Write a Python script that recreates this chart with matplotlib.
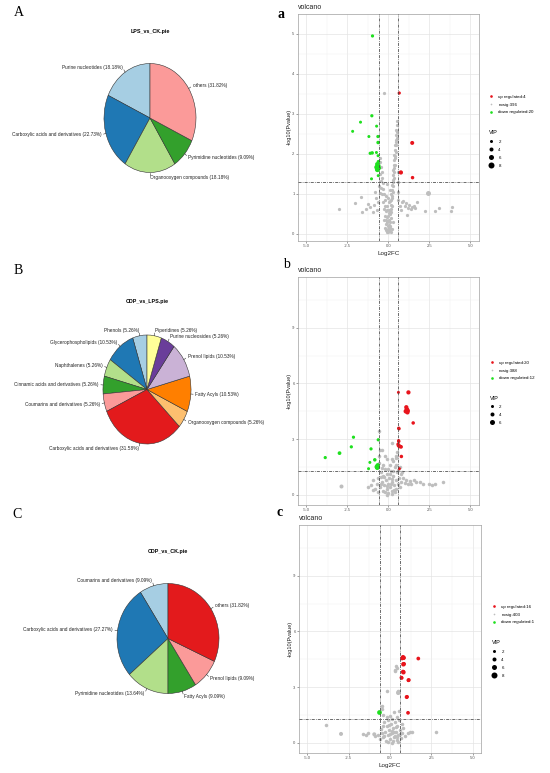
import matplotlib.pyplot as plt
import numpy as np
from matplotlib.lines import Line2D

W, H = 550, 773
plt.rcParams['font.family'] = ['Liberation Sans', 'DejaVu Sans']

# R "Paired" palette, used in order by the pie charts
paired = ['#A6CEE3', '#1F78B4', '#B2DF8A', '#33A02C', '#FB9A99', '#E31A1C',
          '#FDBF6F', '#FF7F00', '#CAB2D6', '#6A3D9A', '#FFFF99', '#B15928']

# --- pie data (counter-clockwise from 12 o'clock) ---
pie_a_names = ['Purine nucleotides', 'Carboxylic acids and derivatives',
               'Organooxygen compounds', 'Pyrimidine nucleotides', 'others']
pie_a_pct = [18.18, 22.73, 18.18, 9.09, 31.82]

pie_b_names = ['Phenols', 'Glycerophospholipids', 'Naphthalenes',
               'Cinnamic acids and derivatives', 'Coumarins and derivatives',
               'Carboxylic acids and derivatives', 'Organooxygen compounds',
               'Fatty Acyls', 'Prenol lipids', 'Purine nucleosides', 'Piperidines']
pie_b_pct = [5.26, 10.53, 5.26, 5.26, 5.26, 31.58, 5.26, 10.53, 10.53, 5.26, 5.26]

pie_c_names = ['Coumarins and derivatives', 'Carboxylic acids and derivatives',
               'Pyrimidine nucleotides', 'Fatty Acyls', 'Prenol lipids', 'others']
pie_c_pct = [9.09, 27.27, 13.64, 9.09, 9.09, 31.82]

# --- volcano a: LPS vs CK  (x = Log2FC, y = -log10 P, VIP) ---
up_a = [(0.67, 3.52, 2.5), (1.46, 2.27, 4.0), (0.77, 1.53, 4.5), (1.48, 1.40, 3.0)]
down_a = [(-0.96, 4.95, 2.5), (-1.00, 2.95, 2.5), (-1.69, 2.79, 2.0), (-2.17, 2.56, 2.0),
          (-0.71, 2.69, 2.0), (-1.18, 2.43, 2.0), (-0.63, 2.43, 2.5), (-0.62, 2.28, 3.0),
          (-1.10, 2.01, 2.5), (-0.98, 2.02, 3.0), (-0.72, 2.03, 2.0), (-0.68, 1.74, 4.0),
          (-0.62, 1.70, 6.0), (-0.70, 1.66, 6.0), (-0.58, 1.64, 5.0), (-0.66, 1.60, 6.0),
          (-0.60, 1.80, 3.0), (-0.61, 1.45, 2.0), (-1.02, 1.37, 2.0), (-0.62, 1.95, 2.0)]
ns_a = [(0.02, 0.10), (0.05, 0.22), (0.07, 0.35), (0.10, 0.48), (0.12, 0.60), (0.14, 0.72),
        (0.17, 0.85), (0.19, 0.98), (0.21, 1.10), (0.24, 1.22), (0.26, 1.35), (0.28, 1.47),
        (0.31, 1.60), (0.33, 1.72), (0.36, 1.85), (0.38, 1.97), (0.40, 2.10), (0.42, 2.22),
        (0.45, 2.35), (0.47, 2.47), (0.50, 2.60), (0.52, 2.72), (0.54, 2.82),
        (0.12, 0.20), (0.15, 0.38), (0.18, 0.55), (0.21, 0.70), (0.24, 0.88), (0.27, 1.05),
        (0.30, 1.20), (0.33, 1.38), (0.36, 1.55), (0.40, 1.72), (0.43, 1.90), (0.46, 2.05),
        (0.49, 2.22), (0.52, 2.40), (0.55, 2.55),
        (0.08, 0.15), (0.11, 0.30), (0.16, 0.62), (0.22, 0.95), (0.29, 1.30), (0.35, 1.65),
        (0.41, 1.95), (0.47, 2.30), (0.06, 0.52), (0.13, 0.82),
        (-0.03, 0.12), (-0.06, 0.28), (-0.10, 0.42), (-0.13, 0.56), (-0.17, 0.70),
        (-0.21, 0.84), (-0.25, 0.98), (-0.29, 1.12), (-0.33, 1.26), (-0.37, 1.40),
        (-0.41, 1.54), (-0.45, 1.66), (-0.49, 1.78), (-0.52, 1.88),
        (-0.12, 0.25), (-0.18, 0.45), (-0.24, 0.62), (-0.30, 0.80), (-0.36, 0.98),
        (-0.42, 1.15), (-0.47, 1.32), (-0.52, 1.48), (-0.56, 1.20), (-0.52, 1.02),
        (-0.08, 0.05), (0.00, 0.04), (0.08, 0.06), (-0.02, 0.20), (0.03, 0.32), (-0.04, 0.45),
        (0.02, 0.58), (-0.06, 0.68), (0.06, 0.78), (-0.20, 0.15), (0.20, 0.12), (-0.28, 0.35),
        (0.28, 0.30), (0.00, 0.90), (-0.12, 0.95), (0.10, 1.10), (-0.05, 1.25),
        (-0.15, 0.10), (0.14, 0.05), (-0.09, 0.58), (-0.16, 0.35),
        (-3.03, 0.61), (-2.01, 0.77), (-1.67, 0.92), (-1.60, 0.55), (-1.38, 0.62),
        (-1.24, 0.73), (-1.10, 0.66), (-0.95, 0.55), (-0.87, 0.72), (-0.80, 1.05),
        (-0.75, 0.88), (-0.70, 0.60), (-0.62, 0.80), (-0.26, 3.52),
        (0.62, 0.85), (0.70, 0.68), (0.78, 0.58), (0.85, 0.78), (0.92, 0.82), (1.00, 0.70),
        (1.08, 0.76), (1.14, 0.47), (1.20, 0.64), (1.28, 0.72), (1.36, 0.62), (1.45, 0.66),
        (1.55, 0.70), (1.65, 0.63), (1.75, 0.78), (2.26, 0.56), (2.87, 0.57), (3.11, 0.64),
        (3.82, 0.57), (3.88, 0.67), (0.60, 1.05), (0.58, 1.30), (0.62, 1.55)]
ns_big_a = [(2.44, 1.01, 6.0)]

# --- volcano b: CDP vs LPS ---
up_b = [(0.62, 5.52, 2.0), (1.23, 5.52, 4.5), (1.10, 4.72, 4.5), (1.15, 4.58, 5.0),
        (1.07, 4.50, 5.0), (1.17, 4.44, 4.5), (1.12, 4.62, 4.0), (1.52, 3.87, 3.0),
        (0.64, 3.58, 3.0), (0.64, 2.88, 3.0), (0.60, 2.72, 3.0), (0.68, 2.60, 3.5),
        (0.78, 2.58, 3.5), (0.80, 2.06, 3.0), (0.68, 1.40, 2.0), (0.62, 2.65, 3.0),
        (1.20, 4.52, 4.0), (0.66, 3.55, 2.0), (0.70, 2.62, 3.0), (0.63, 2.92, 2.0)]
down_b = [(-3.84, 2.00, 2.5), (-2.97, 2.24, 3.5), (-2.25, 2.58, 2.5), (-2.12, 3.10, 2.5),
          (-1.05, 2.47, 2.5), (-0.61, 2.96, 2.5), (-1.12, 1.74, 2.0), (-0.82, 1.88, 3.0),
          (-1.20, 1.40, 2.0), (-0.70, 1.50, 5.0), (-0.64, 1.58, 5.0), (-0.67, 1.45, 5.0)]
ns_b = [(-0.70, 0.60), (-0.60, 0.90), (-0.50, 0.40), (-0.45, 1.20), (-0.40, 0.70), (-0.35, 0.20),
        (-0.30, 1.00), (-0.25, 0.50), (-0.20, 1.40), (-0.15, 0.80), (-0.10, 0.30), (-0.05, 1.10),
        (0.00, 0.60), (0.00, 0.10), (0.05, 0.90), (0.10, 0.40), (0.15, 1.30), (0.20, 0.70),
        (0.25, 0.20), (0.30, 1.00), (0.35, 0.50), (0.40, 1.50), (0.45, 0.80), (0.50, 0.30),
        (0.55, 1.20), (0.60, 0.60), (0.65, 0.90), (0.70, 0.40), (0.75, 1.10), (0.80, 0.70),
        (-0.80, 0.30), (-0.65, 1.50), (-0.55, 1.70), (-0.30, 1.60), (0.10, 1.60), (0.30, 1.80),
        (0.50, 1.60), (-0.10, 0.00), (0.20, 0.05), (-0.20, 0.15), (0.40, 0.15), (-0.60, 0.15),
        (0.10, 1.10), (-0.40, 1.45), (0.60, 1.35), (0.20, 1.90), (-0.10, 1.90), (0.45, 2.10),
        (-0.05, 0.45), (0.15, 0.60), (0.25, 0.85), (-0.25, 0.95), (0.35, 0.25), (-0.45, 0.55),
        (0.90, 0.90), (1.00, 0.65), (1.10, 0.80), (1.20, 0.55), (1.30, 0.75), (1.40, 0.60),
        (1.54, 0.79), (1.70, 0.70), (1.94, 0.66), (2.10, 0.55), (2.49, 0.55), (2.65, 0.52),
        (2.85, 0.55), (3.35, 0.66), (-1.24, 0.43), (-1.05, 0.50), (-0.95, 0.80), (-0.90, 0.25),
        (-0.58, 3.46), (0.25, 2.79), (-0.39, 2.43), (-0.50, 2.39), (0.55, 2.29), (0.47, 1.97),
        (-0.20, 2.10), (-0.55, 2.10), (0.30, 1.30), (0.00, 1.40), (-0.45, 0.95), (0.70, 1.50),
        (0.85, 1.20)]
ns_big_b = [(-2.89, 0.48, 4.0)]

# --- volcano c: CDP vs CK ---
up_c = [(0.81, 4.59, 5.0), (0.73, 4.55, 4.0), (1.71, 4.54, 3.5), (0.81, 4.23, 5.0),
        (0.81, 3.80, 5.0), (0.69, 3.51, 3.5), (1.13, 3.38, 4.0), (1.01, 2.46, 4.0),
        (1.09, 1.61, 3.5), (0.78, 4.62, 4.0), (0.84, 4.25, 4.0), (0.79, 3.83, 4.0),
        (0.83, 4.57, 4.0), (0.71, 3.49, 3.0), (1.11, 3.36, 3.0), (1.03, 2.48, 3.0)]
down_c = [(-0.67, 1.66, 5.5)]
ns_c = [(-0.60, 0.20), (-0.50, 0.50), (-0.45, 0.90), (-0.40, 0.30), (-0.35, 1.10), (-0.30, 0.60),
        (-0.25, 0.10), (-0.20, 0.90), (-0.15, 0.40), (-0.10, 1.20), (-0.05, 0.70), (0.00, 0.20),
        (0.05, 1.00), (0.10, 0.50), (0.15, 0.00), (0.20, 0.80), (0.25, 0.30), (0.30, 1.10),
        (0.35, 0.60), (0.40, 0.15), (0.45, 0.90), (0.50, 0.40), (0.55, 1.20), (0.60, 0.70),
        (0.65, 0.25), (0.70, 1.00), (0.75, 0.50), (0.80, 0.80), (-0.70, 0.40), (-0.55, 0.75),
        (0.00, 1.45), (0.10, 1.30), (0.40, 1.40), (-0.20, 1.40), (0.20, 0.10), (0.00, 0.45),
        (-0.10, 0.05), (0.30, 0.35), (0.50, 0.05), (-0.35, 0.35), (0.15, 0.65), (-0.05, 0.95),
        (0.35, 0.85), (0.25, 0.55), (0.45, 0.30), (0.60, 0.45),
        (-0.46, 1.99), (-0.50, 1.80), (0.24, 1.64), (0.54, 1.73), (-0.40, 1.50), (-0.20, 2.80),
        (0.30, 3.92), (0.42, 4.05), (0.35, 4.15), (0.28, 3.85),
        (-3.89, 0.96), (-1.61, 0.45), (-1.31, 0.50), (-1.45, 0.40), (-0.90, 0.35),
        (1.11, 0.50), (1.20, 0.55), (1.31, 0.60), (2.76, 0.58), (0.90, 0.35)]
ns_big_c = [(-2.96, 0.47, 4.0), (0.50, 2.69, 5.0), (0.52, 2.75, 4.0), (-0.95, 0.45, 4.0)]

fig = plt.figure(figsize=(W / 100, H / 100), dpi=100)


def rect(left, top, right, bottom):
    return [left / W, 1 - bottom / H, (right - left) / W, (bottom - top) / H]


def draw_pie(cx, cy, rx, ry, names, pcts, title, title_y):
    ax = fig.add_axes(rect(cx - rx, cy - ry, cx + rx, cy + ry))
    wedges, _ = ax.pie(pcts, colors=paired[:len(pcts)], startangle=90, counterclock=True,
                       wedgeprops=dict(edgecolor='#333333', linewidth=0.4))
    ax.set_aspect('auto')
    ax.set_xlim(-1, 1)
    ax.set_ylim(-1, 1)
    for w, name, p in zip(wedges, names, pcts):
        mid = np.deg2rad((w.theta1 + w.theta2) / 2)
        c, s = np.cos(mid), np.sin(mid)
        ax.plot([c, 1.05 * c], [s, 1.05 * s], color='#333333', lw=0.4, clip_on=False)
        ax.text(1.1 * c, 1.1 * s, f'{name} ({p:.2f}%)', ha='left' if c >= 0 else 'right',
                va='center', fontsize=3.45, color='#222222', clip_on=False)
    fig.text(cx / W, 1 - title_y / H, title, ha='center', va='center',
             fontsize=3.9, weight='bold')


def vip_size(v):
    return (0.72 * (2 + 0.5 * np.asarray(v))) ** 2


def draw_volcano(box, up, down, ns, ns_big, ns_vip, ylim, yticks, counts, vips,
                 leg_x, leg_y, vip_y, xlabel=True):
    ax = fig.add_axes(rect(*box))
    ax.set_xlim(-5.5, 5.5)
    ax.set_ylim(*ylim)
    # theme_bw grid
    xt = [-5, -2.5, 0, 2.5, 5]
    ax.set_xticks(xt)
    ax.set_xticklabels([f'{t:.1f}' for t in xt])
    ax.set_xticks([-3.75, -1.25, 1.25, 3.75], minor=True)
    ax.set_yticks(yticks)
    ax.set_yticklabels([str(t) for t in yticks])
    step = yticks[1] - yticks[0]
    ax.set_yticks([t + step / 2 for t in yticks], minor=True)
    ax.grid(which='major', color='#E4E4E4', lw=0.5)
    ax.grid(which='minor', color='#EFEFEF', lw=0.3)
    ax.set_axisbelow(True)
    ax.tick_params(which='major', labelsize=3, length=1.5, width=0.4,
                   colors='#555555', pad=1)
    ax.tick_params(which='minor', length=0)
    for sp in ax.spines.values():
        sp.set_color('#A0A0A0')
        sp.set_linewidth(0.5)

    ns = np.array(ns)
    ax.scatter(ns[:, 0], ns[:, 1], s=vip_size(ns_vip), color='#BEBEBE', lw=0, zorder=2)
    nb = np.array(ns_big)
    ax.scatter(nb[:, 0], nb[:, 1], s=vip_size(nb[:, 2]), color='#BEBEBE', lw=0, zorder=2)
    dn = np.array(down)
    ax.scatter(dn[:, 0], dn[:, 1], s=vip_size(dn[:, 2]), color='#1EE01E', lw=0, zorder=3)
    upp = np.array(up)
    ax.scatter(upp[:, 0], upp[:, 1], s=vip_size(upp[:, 2]), color='#E8141C', lw=0, zorder=3)

    dash = (0, (4, 1.5, 1, 1.5))
    ax.axvline(-np.log2(1.5), color='#444444', lw=0.55, ls=dash, zorder=4)
    ax.axvline(np.log2(1.5), color='#444444', lw=0.55, ls=dash, zorder=4)
    ax.axhline(-np.log10(0.05), color='#444444', lw=0.55, ls=dash, zorder=4)

    ax.set_ylabel('-log10(Pvalue)', fontsize=4, color='#222222')
    ax.yaxis.set_label_coords(-0.035, 0.5)
    if xlabel:
        ax.set_xlabel('Log2FC', fontsize=4.5, color='#222222')
        ax.xaxis.set_label_coords(0.5, -0.045)
    ax.text(0, 1 + 6.5 / (box[3] - box[1]), 'volcano', transform=ax.transAxes,
            fontsize=5, va='center', ha='left', color='#222222')

    # colour legend
    h1 = [Line2D([], [], ls='', marker='o', ms=1.9, color='#E8141C', mew=0),
          Line2D([], [], ls='', marker='o', ms=1.2, color='#BEBEBE', mew=0),
          Line2D([], [], ls='', marker='o', ms=1.9, color='#1EE01E', mew=0)]
    l1 = [f'up regulated:{counts[0]}', f'nosig:{counts[1]}', f'down regulated:{counts[2]}']
    leg1 = ax.legend(h1, l1, loc='upper left', frameon=False, fontsize=3.2,
                     bbox_to_anchor=(leg_x / W, 1 - leg_y / H), bbox_transform=fig.transFigure,
                     borderpad=0, borderaxespad=0, handlelength=1.0, handletextpad=1.1,
                     labelspacing=0.8)
    ax.add_artist(leg1)
    h2 = [Line2D([], [], ls='', marker='o', ms=0.72 * (2 + 0.5 * v), color='black', mew=0)
          for v in vips]
    ax.legend(h2, [str(v) for v in vips], loc='upper left', frameon=False,
              fontsize=3.2, title='VIP', title_fontsize=4, alignment='left',
              bbox_to_anchor=(leg_x / W, 1 - vip_y / H), bbox_transform=fig.transFigure,
              borderpad=0, borderaxespad=0, handlelength=1.0, handletextpad=1.1,
              labelspacing=0.9)
    return ax


draw_pie(150, 118, 46, 54.5, pie_a_names, pie_a_pct, 'LPS_vs_CK.pie', 31)
draw_pie(147, 389.5, 44, 54.5, pie_b_names, pie_b_pct, 'CDP_vs_LPS.pie', 302)
draw_pie(168, 638.5, 51, 55, pie_c_names, pie_c_pct, 'CDP_vs_CK.pie', 551)

draw_volcano((298, 14, 478.5, 240.7), up_a, down_a, ns_a, ns_big_a, 2.5, (-0.18, 5.24),
             [0, 1, 2, 3, 4, 5], (4, 396, 20), [2, 4, 6, 8], 489, 94.8, 130.5)
draw_volcano((298, 277, 478.5, 505), up_b, down_b, ns_b, ns_big_b, 3.0, (-0.56, 11.75),
             [0, 3, 6, 9], (20, 388, 12), [2, 4, 6], 489.5, 360.8, 395.5, xlabel=False)
draw_volcano((299, 525, 481, 753), up_c, down_c, ns_c, ns_big_c, 3.0, (-0.56, 11.75),
             [0, 3, 6, 9], (16, 403, 1), [2, 4, 6, 8], 492, 604.8, 640.5)

# panel letters
for lab, x, y, wt in [('A', 19, 13, 'normal'), ('B', 18, 270, 'normal'), ('C', 17, 514, 'normal'),
                      ('a', 281, 15, 'bold'), ('b', 286, 265, 'normal'), ('c', 280, 513, 'bold')]:
    fig.text(x / W, 1 - y / H, lab, fontsize=10, family='Liberation Serif', weight=wt,
             ha='center', va='center')

fig.savefig('out.png', dpi=100)
